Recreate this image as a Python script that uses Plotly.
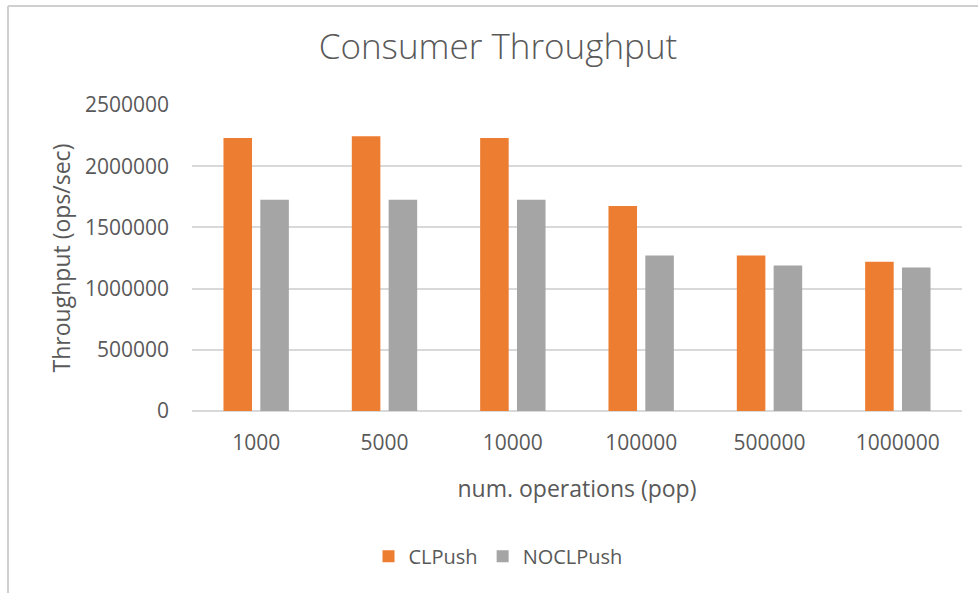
import plotly.graph_objects as go

# Operation counts on the x axis
categories = ["1000", "5000", "10000", "100000", "500000", "1000000"]

# Consumer throughput (ops/sec) per configuration
clpush = [2230000, 2245000, 2230000, 1675000, 1270000, 1220000]
noclpush = [1725000, 1725000, 1725000, 1270000, 1188000, 1172000]

y_ticks = [0, 500000, 1000000, 1500000, 2000000, 2500000]

ORANGE = "#ED7D31"
GREY = "#A5A5A5"
TEXT = "#595959"
GRID = "#D9D9D9"
FONT = "Open Sans, Lato, sans-serif"

fig = go.Figure()
fig.add_trace(go.Bar(name="CLPush", x=categories, y=clpush, marker=dict(color=ORANGE, line=dict(width=0))))
fig.add_trace(go.Bar(name="NOCLPush", x=categories, y=noclpush, marker=dict(color=GREY, line=dict(width=0))))

fig.update_layout(
    width=978,
    height=593,
    margin=dict(l=192, r=16, t=105, b=182),
    paper_bgcolor="white",
    plot_bgcolor="white",
    barmode="group",
    bargap=0.426,
    bargroupgap=0.225,
    font=dict(family=FONT, color=TEXT, size=20),
    title=dict(
        text="Consumer Throughput",
        x=498 / 978,
        xanchor="center",
        xref="container",
        y=1 - 47 / 593,
        yanchor="middle",
        yref="container",
        font=dict(family=FONT, size=35, color=TEXT, weight=300),
    ),
    xaxis=dict(
        type="category",
        showgrid=False,
        showline=False,
        ticks="",
        ticklabelstandoff=17,
        tickfont=dict(size=21, color=TEXT),
        title=dict(text="num. operations (pop)", font=dict(size=23, color=TEXT), standoff=25),
    ),
    yaxis=dict(
        range=[0, 2500000],
        tickmode="array",
        tickvals=y_ticks,
        ticktext=[str(v) for v in y_ticks],
        showgrid=True,
        gridcolor=GRID,
        gridwidth=1.5,
        zeroline=True,
        zerolinecolor=GRID,
        zerolinewidth=1.5,
        showline=False,
        ticks="",
        ticklabelstandoff=22,
        tickfont=dict(size=21, color=TEXT),
        title=dict(text="Throughput (ops/sec)", font=dict(size=23, color=TEXT), standoff=7),
    ),
    legend=dict(
        orientation="h",
        x=(498 - 192) / 770,
        xanchor="center",
        xref="paper",
        y=-0.475,
        yanchor="middle",
        font=dict(size=20, color=TEXT),
        itemwidth=30,
        traceorder="normal",
    ),
    showlegend=True,
)

# Light chart-area border along the top and left edges
fig.add_shape(type="line", xref="paper", yref="paper",
              x0=-184 / 770, x1=1.1, y0=1 + 99 / 306, y1=1 + 99 / 306,
              line=dict(color="#D0D0D0", width=2))
fig.add_shape(type="line", xref="paper", yref="paper",
              x0=-184 / 770, x1=-184 / 770, y0=-0.7, y1=1 + 99 / 306,
              line=dict(color="#D0D0D0", width=2))

fig.write_html("out.html")
